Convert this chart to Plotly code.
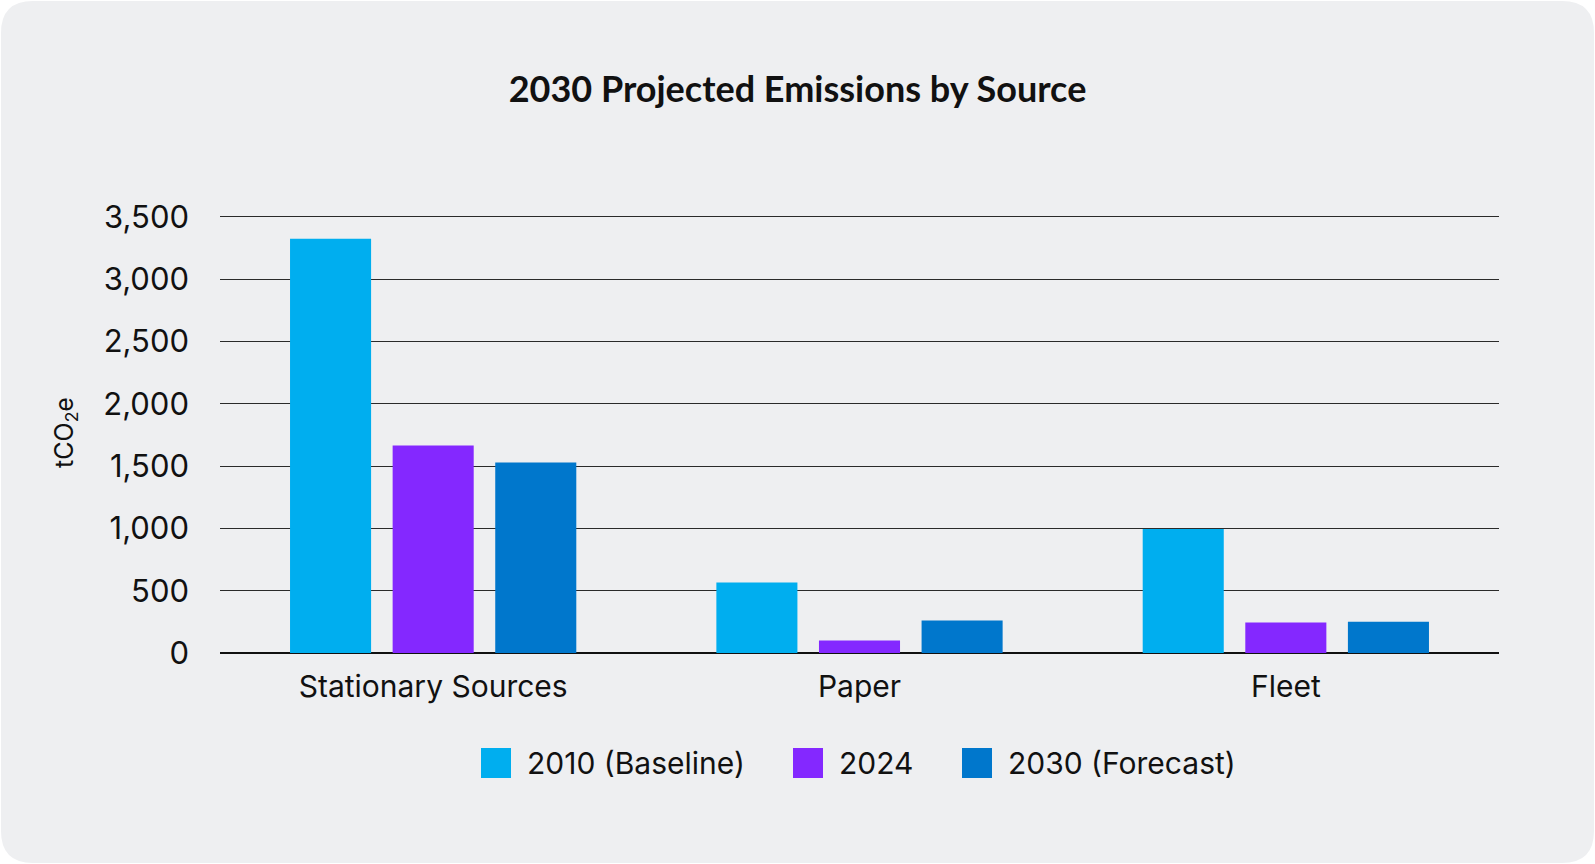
import plotly.graph_objects as go

W, H = 1595, 864

categories = ["Stationary Sources", "Paper", "Fleet"]
series_names = ["2010 (Baseline)", "2024", "2030 (Forecast)"]
baseline_2010 = [3325, 565, 995]
actual_2024 = [1665, 100, 245]
forecast_2030 = [1530, 260, 250]
series_values = [baseline_2010, actual_2024, forecast_2030]
colors = ["#00AEEF", "#8428FF", "#0077CC"]
y_ticks = [0, 500, 1000, 1500, 2000, 2500, 3000, 3500]
y_ticktext = ["0", "500", "1,000", "1,500", "2,000", "2,500", "3,000", "3,500"]

Y_MAX = 3540
ML, MR, MB = 220, 96, 211
PH = round(436 * Y_MAX / 3500)
MT = H - MB - PH
PW = W - ML - MR

def px(x):
    return (x - ML) / PW

def py(y):
    return (H - MB - y) / PH

FONT = "Inter"
card_bg = "#EEEFF1"

fig = go.Figure()
for name, vals, col in zip(series_names, series_values, colors):
    fig.add_trace(go.Bar(
        x=categories, y=vals, name=name, marker=dict(color=col, line=dict(width=0)),
        showlegend=False,
    ))

shapes = []
# rounded card background
x0, y0, x1, y1, r = 1, 1, W - 1, H - 1, 32
pts = [
    ("M", (x0 + r, y0)), ("L", (x1 - r, y0)), ("Q", (x1, y0), (x1, y0 + r)),
    ("L", (x1, y1 - r)), ("Q", (x1, y1), (x1 - r, y1)),
    ("L", (x0 + r, y1)), ("Q", (x0, y1), (x0, y1 - r)),
    ("L", (x0, y0 + r)), ("Q", (x0, y0), (x0 + r, y0)),
]
path = ""
for item in pts:
    cmd = item[0]
    coords = " ".join(f"{px(p[0]):.5f},{py(p[1]):.5f}" for p in item[1:])
    path += f"{cmd}{coords} "
path += "Z"
shapes.append(dict(type="path", path=path, xref="paper", yref="paper",
                   fillcolor=card_bg, line=dict(width=0), layer="below"))

# custom legend
annotations = []
legend_sq_x = [481, 793, 962]
sq = 30
leg_y = 763
for lx, name, col in zip(legend_sq_x, series_names, colors):
    shapes.append(dict(type="rect", xref="paper", yref="paper",
                       x0=px(lx), x1=px(lx + sq), y0=py(leg_y + sq / 2), y1=py(leg_y - sq / 2),
                       fillcolor=col, line=dict(width=0)))
    annotations.append(dict(text=name, xref="paper", yref="paper",
                            x=px(lx + sq + 14), y=py(leg_y), xanchor="left", yanchor="middle",
                            showarrow=False, font=dict(family=FONT, size=30, color="#111111")))

fig.update_layout(
    width=W, height=H,
    margin=dict(l=ML, r=MR, t=MT, b=MB, autoexpand=False),
    paper_bgcolor="white",
    plot_bgcolor="rgba(0,0,0,0)",
    barmode="group",
    bargap=0.278,
    bargroupgap=0.21,
    title=dict(text="<b>2030 Projected Emissions by Source</b>", x=0.5, xanchor="center",
               y=1 - 89 / H, yanchor="middle",
               font=dict(family="Lato", size=36, color="#111111")),
    xaxis=dict(showgrid=False, showline=False, zeroline=False, ticks="",
               tickfont=dict(family=FONT, size=30, color="#111111"),
               ticklabelstandoff=13),
    yaxis=dict(range=[0, Y_MAX], tickvals=y_ticks, ticktext=y_ticktext,
               showgrid=True, gridcolor="#2a2a2a", gridwidth=1,
               zeroline=True, zerolinecolor="#111111", zerolinewidth=2,
               showline=False, ticks="",
               tickfont=dict(family=FONT, size=31, color="#111111"),
               ticklabelstandoff=30,
               title=dict(text="tCO<sub>2</sub>e", font=dict(family=FONT, size=25, color="#111111"),
                          standoff=22)),
    shapes=shapes,
    annotations=annotations,
    showlegend=False,
)

fig.write_html("out.html", config={"displayModeBar": False},
               post_script="document.body.style.margin='0';")
